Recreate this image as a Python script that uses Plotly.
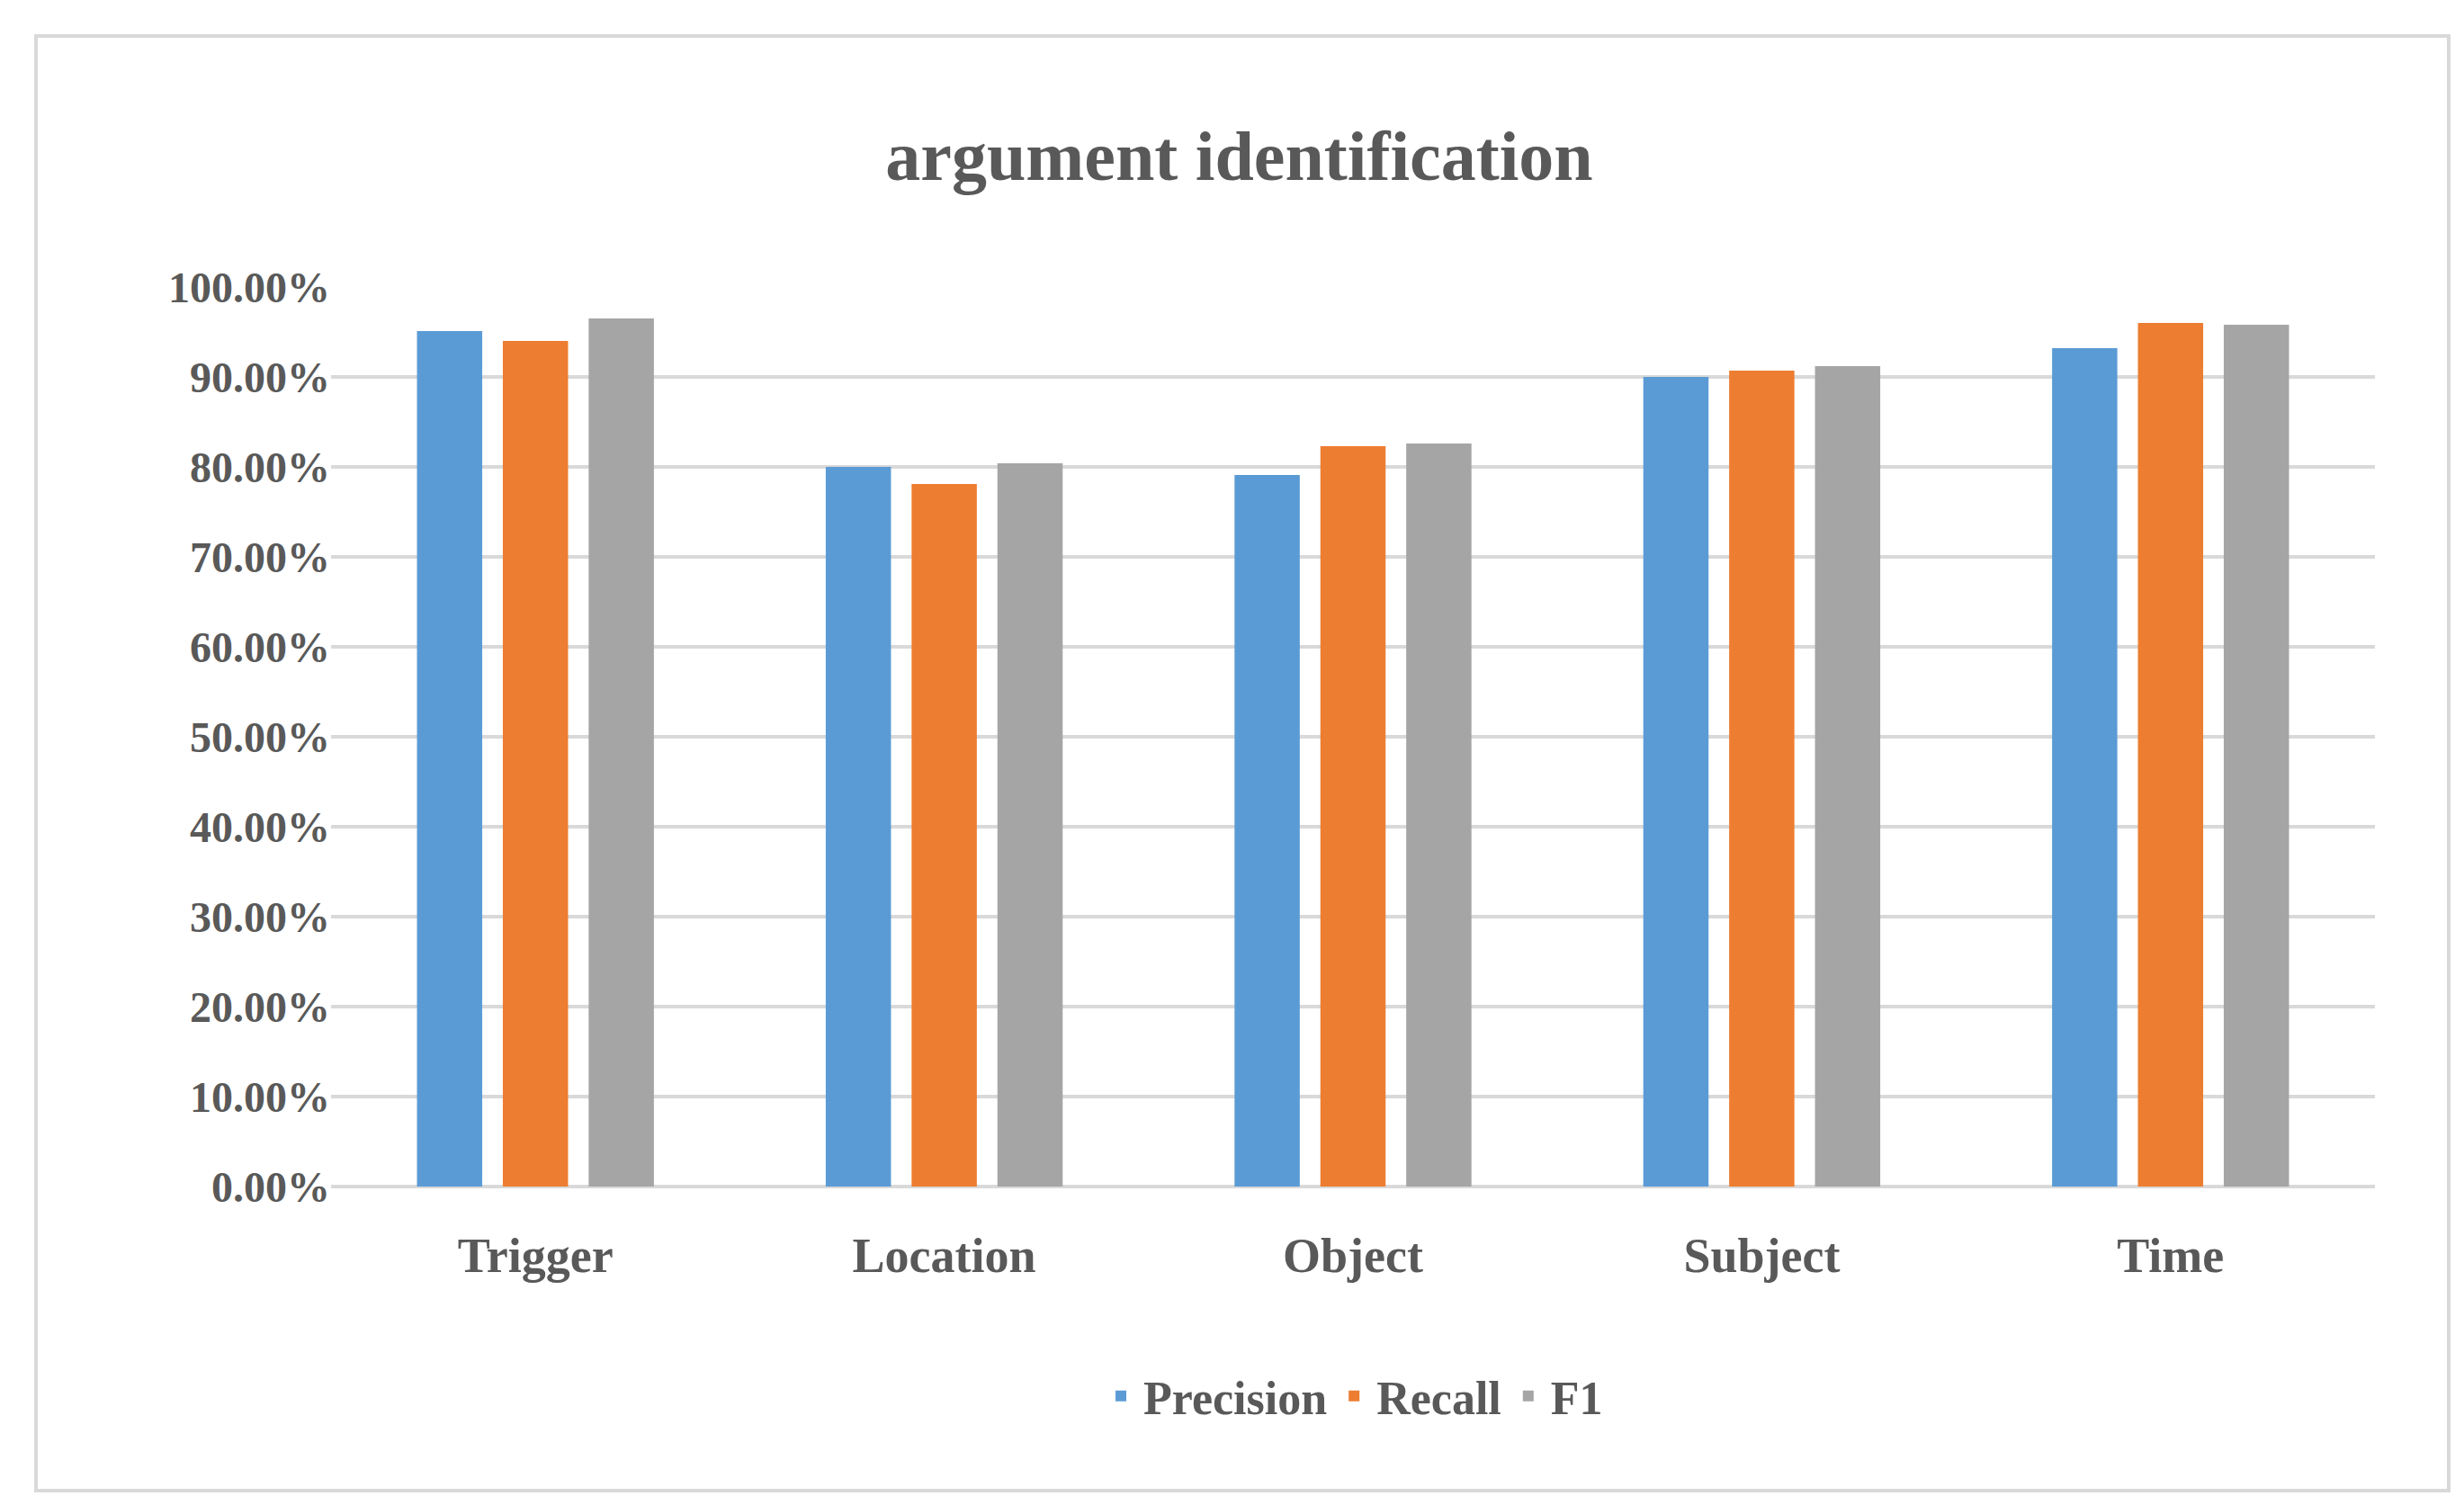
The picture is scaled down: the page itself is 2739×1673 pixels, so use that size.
import plotly.graph_objects as go

categories = ["Trigger", "Location", "Object", "Subject", "Time"]
precision = [0.951, 0.800, 0.791, 0.900, 0.932]
recall = [0.940, 0.781, 0.823, 0.907, 0.960]
f1 = [0.965, 0.804, 0.826, 0.912, 0.958]
series = [("Precision", precision, "#5b9bd5"), ("Recall", recall, "#ed7d31"), ("F1", f1, "#a5a5a5")]

FONT = "Liberation Serif"
fig = go.Figure()
for name, vals, col in series:
    fig.add_trace(go.Bar(x=categories, y=vals, name=name, marker_color=col, marker_line_width=0))

W, H = 2739, 1673
l, r, t, b = 360, 107, 311, 362
pw, ph = W - l - r, H - t - b
fig.update_layout(
    width=W, height=H, margin=dict(l=l, r=r, t=t, b=b),
    paper_bgcolor="white", plot_bgcolor="white",
    font=dict(family=FONT, color="#595959"),
    title=dict(text="<b>argument identification</b>", x=0.5, xanchor="center",
               y=1 - 165 / H, yanchor="middle", font=dict(size=78, color="#595959")),
    barmode="group", bargap=0.37, bargroupgap=0.24,
    legend=dict(orientation="h", x=0.5, xanchor="center", y=-0.233, yanchor="middle",
                font=dict(size=52, color="#595959"), traceorder="normal", itemwidth=40),
    xaxis=dict(showgrid=False, showline=False, ticks="", ticklabelstandoff=40,
               tickfont=dict(size=54, color="#595959"), tickprefix="<b>", ticksuffix="</b>"),
    yaxis=dict(range=[0, 1.0], dtick=0.1, tickformat=".2%", showgrid=True, gridcolor="#d9d9d9",
               gridwidth=4, zeroline=True, zerolinecolor="#d9d9d9", zerolinewidth=4,
               tickfont=dict(size=48, color="#595959"), tickprefix="<b>", ticksuffix="</b>", ticks=""),
    shapes=[dict(type="rect", xref="paper", yref="paper",
                 x0=(32 - l) / pw, x1=(2714 - l) / pw,
                 y0=-(1649 - (H - b)) / ph, y1=((H - b) - 32) / ph,
                 line=dict(color="#d9d9d9", width=4), layer="below")],
)
for tr in fig.data:
    tr.name = "<b>" + tr.name + "</b>"
fig.write_html("out.html")
